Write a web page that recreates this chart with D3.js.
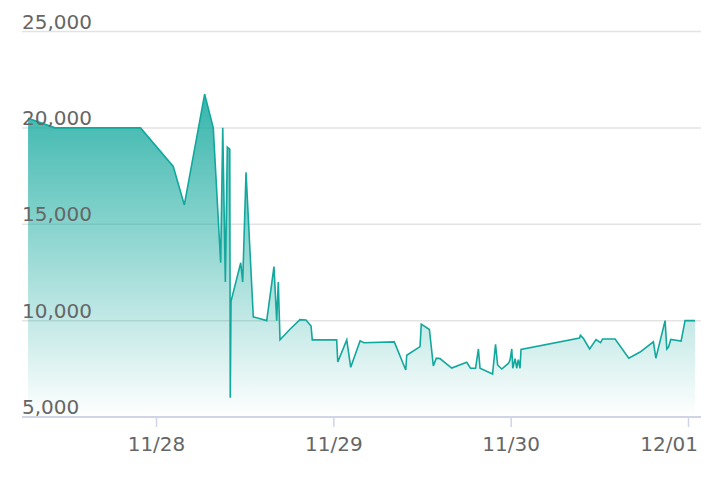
<!DOCTYPE html>
<html>
<head>
<meta charset="utf-8">
<script src="https://cdn.jsdelivr.net/npm/d3@7"></script>
<style>
  html, body { margin: 0; padding: 0; background: #ffffff; }
  svg { display: block; }
  text { font-family: "DejaVu Sans", Verdana, sans-serif; }
</style>
</head>
<body>
<svg id="chart" width="726" height="486"></svg>
<script>
// ---- data ----
const times = [
  "2021-11-27 06:37", "2021-11-27 10:16", "2021-11-27 21:50",
  "2021-11-28 02:16", "2021-11-28 03:46", "2021-11-28 06:31", "2021-11-28 07:41",
  "2021-11-28 08:41", "2021-11-28 08:58", "2021-11-28 09:19", "2021-11-28 09:35",
  "2021-11-28 09:55", "2021-11-28 09:59", "2021-11-28 10:05", "2021-11-28 11:24",
  "2021-11-28 11:40", "2021-11-28 12:07", "2021-11-28 13:06", "2021-11-28 14:55",
  "2021-11-28 15:54", "2021-11-28 16:16", "2021-11-28 16:29", "2021-11-28 16:43",
  "2021-11-28 18:04", "2021-11-28 19:25", "2021-11-28 20:14", "2021-11-28 20:55",
  "2021-11-28 21:05",
  "2021-11-29 00:23", "2021-11-29 00:32", "2021-11-29 01:45", "2021-11-29 02:17",
  "2021-11-29 03:33", "2021-11-29 04:05", "2021-11-29 08:11", "2021-11-29 09:44",
  "2021-11-29 09:52", "2021-11-29 11:40", "2021-11-29 11:50", "2021-11-29 12:56",
  "2021-11-29 13:28", "2021-11-29 13:52", "2021-11-29 14:22", "2021-11-29 15:57",
  "2021-11-29 17:59", "2021-11-29 18:30", "2021-11-29 19:11", "2021-11-29 19:34",
  "2021-11-29 19:47", "2021-11-29 21:29", "2021-11-29 21:53", "2021-11-29 22:10",
  "2021-11-29 22:44", "2021-11-29 23:39", "2021-11-29 23:51",
  "2021-11-30 00:05", "2021-11-30 00:13", "2021-11-30 00:32", "2021-11-30 00:45",
  "2021-11-30 00:58", "2021-11-30 01:12", "2021-11-30 01:20", "2021-11-30 09:15",
  "2021-11-30 09:22", "2021-11-30 09:46", "2021-11-30 10:37", "2021-11-30 11:29",
  "2021-11-30 12:06", "2021-11-30 12:22", "2021-11-30 14:04", "2021-11-30 15:55",
  "2021-11-30 17:27", "2021-11-30 19:15", "2021-11-30 19:35", "2021-11-30 20:50",
  "2021-11-30 21:04", "2021-11-30 21:18", "2021-11-30 21:36", "2021-11-30 23:00",
  "2021-11-30 23:32", "2021-12-01 00:53"
];
const values = [
  20500, 20000, 20000,
  18000, 16000, 21750, 20000,
  13000, 20000, 12000, 19000,
  18900, 6000, 11000, 13000,
  12000, 17700, 10200, 10000,
  12800, 10000, 12000, 9000,
  9550, 10050, 10030, 9720,
  9000,
  9000, 7850, 9000, 7580,
  8950, 8850, 8900, 7440,
  8200, 8650, 9820, 9540,
  7650, 8050, 8030, 7540,
  7840, 7530, 7530, 8530,
  7530, 7230, 8770, 7700,
  7490, 7790, 7960,
  8530, 7530, 8030, 7530,
  7980, 7530, 8510, 9100,
  9240, 9080, 8530, 9020,
  8860, 9050, 9050, 8050,
  8370, 8900, 8050, 10000,
  8530, 8630, 9020, 8940,
  10000, 10000
];
const yTicks = [5000, 10000, 15000, 20000, 25000];
const yTickLabels = ["5,000", "10,000", "15,000", "20,000", "25,000"];
const xTicks = ["2021-11-28 00:00", "2021-11-29 00:00", "2021-11-30 00:00", "2021-12-01 00:00"];
const xTickLabels = ["11/28", "11/29", "11/30", "12/01"];

// ---- layout ----
const parse = d3.utcParse("%Y-%m-%d %H:%M");
const data = times.map((t, i) => ({ t: parse(t), v: values[i] }));

const plotLeft = 22, plotRight = 701;
const x = d3.scaleUtc()
  .domain([parse(xTicks[0]), parse(xTicks[3])])
  .range([156.5, 688.5]);
const y = d3.scaleLinear()
  .domain([5000, 25000])
  .range([417, 31.5]);

const svg = d3.select("#chart");
const color = "#12a89d";

// gradient
const defs = svg.append("defs");
const grad = defs.append("linearGradient")
  .attr("id", "areaGrad")
  .attr("gradientUnits", "userSpaceOnUse")
  .attr("x1", 0).attr("x2", 0)
  .attr("y1", y(d3.max(values))).attr("y2", y(5000));
grad.append("stop").attr("offset", "0%").attr("stop-color", color).attr("stop-opacity", 0.85);
grad.append("stop").attr("offset", "100%").attr("stop-color", color).attr("stop-opacity", 0.0);

// grid lines
svg.append("g")
  .selectAll("line")
  .data(yTicks.slice(1))
  .join("line")
  .attr("x1", plotLeft).attr("x2", plotRight)
  .attr("y1", d => y(d)).attr("y2", d => y(d))
  .attr("stroke", "#e3e3e3")
  .attr("stroke-width", 1.5);

// area
const area = d3.area()
  .x(d => x(d.t))
  .y0(y(5000))
  .y1(d => y(d.v));
svg.append("path")
  .datum(data)
  .attr("d", area)
  .attr("fill", "url(#areaGrad)");

// line
const line = d3.line()
  .x(d => x(d.t))
  .y(d => y(d.v));
svg.append("path")
  .datum(data)
  .attr("d", line)
  .attr("fill", "none")
  .attr("stroke", color)
  .attr("stroke-width", 1.6)
  .attr("stroke-linejoin", "miter");

// x axis
const axisColor = "#cfd4e6";
svg.append("line")
  .attr("x1", plotLeft).attr("x2", plotRight)
  .attr("y1", y(5000)).attr("y2", y(5000))
  .attr("stroke", axisColor).attr("stroke-width", 2);

const xg = svg.append("g");
xg.selectAll("line")
  .data(xTicks)
  .join("line")
  .attr("x1", d => x(parse(d))).attr("x2", d => x(parse(d)))
  .attr("y1", y(5000)).attr("y2", y(5000) + 10)
  .attr("stroke", axisColor).attr("stroke-width", 1.5);

xg.selectAll("text")
  .data(xTicks)
  .join("text")
  .attr("x", (d, i) => i === xTicks.length - 1 ? plotRight - 3 : x(parse(d)))
  .attr("y", 451)
  .attr("text-anchor", (d, i) => i === xTicks.length - 1 ? "end" : "middle")
  .attr("font-size", 20)
  .attr("fill", "#666666")
  .text((d, i) => xTickLabels[i]);

// y labels
svg.append("g")
  .selectAll("text")
  .data(yTicks)
  .join("text")
  .attr("x", plotLeft)
  .attr("y", d => y(d) - 3)
  .attr("font-size", 20)
  .attr("fill", "#666666")
  .text((d, i) => yTickLabels[i]);
</script>
</body>
</html>
